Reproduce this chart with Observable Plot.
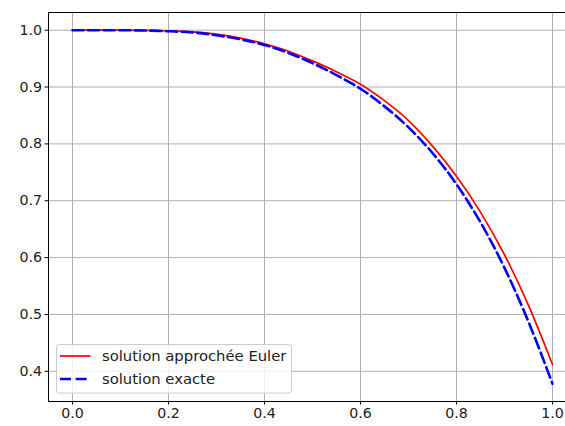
<!DOCTYPE html>
<html>
<head>
<meta charset="utf-8">
<script src="https://cdn.jsdelivr.net/npm/d3@7"></script>
<script src="https://cdn.jsdelivr.net/npm/@observablehq/plot@0.6"></script>
<style>
  html, body { margin: 0; padding: 0; background: #fff; overflow: hidden; }
  #chart { position: relative; width: 565px; height: 426px; overflow: hidden; }
  #chart svg { display: block; max-width: none !important; width: 576px !important; height: 426px !important; }
</style>
</head>
<body>
<div id="chart"></div>
<script>
// x positions (t)
const xs = [0, 0.05, 0.1, 0.15, 0.2, 0.25, 0.3, 0.35, 0.4, 0.45, 0.5, 0.55, 0.6, 0.65, 0.7, 0.75, 0.8, 0.85, 0.9, 0.95, 1.0];
// approximate solution (Euler)
const euler = [1.0, 1.0, 1.0, 0.9998, 0.999, 0.997, 0.993, 0.986, 0.976, 0.963, 0.946, 0.927, 0.905, 0.876, 0.841, 0.796, 0.743, 0.680, 0.605, 0.516, 0.412];
// exact solution
const exacte = [1.0, 1.0, 0.9999, 0.9995, 0.998, 0.996, 0.991, 0.984, 0.974, 0.960, 0.942, 0.921, 0.897, 0.866, 0.829, 0.784, 0.729, 0.662, 0.582, 0.487, 0.378];
// tick labels
const xTicks = [0.0, 0.2, 0.4, 0.6, 0.8, 1.0];
const yTicks = [0.4, 0.5, 0.6, 0.7, 0.8, 0.9, 1.0];
// legend labels
const seriesNames = ["solution approchée Euler", "solution exacte"];
const seriesColors = ["red", "blue"];

const eulerData = xs.map((x, i) => ({x, y: euler[i]}));
const exactData = xs.map((x, i) => ({x, y: exacte[i]}));

const font = "DejaVu Sans, sans-serif";
const fsTick = 14.2;
const fsLegend = 14.8;
const blueDash = "11,4.6";

const plot = Plot.plot({
  width: 576,
  height: 426,
  marginLeft: 48,
  marginRight: 0,
  marginTop: 12,
  marginBottom: 25,
  style: { fontFamily: font, fontSize: fsTick + "px", color: "#000", background: "#fff", overflow: "visible", maxWidth: "none" },
  x: { domain: [-0.05, 1.05] },
  y: { domain: [0.3469, 1.0311] },
  marks: [
    Plot.gridX(xTicks, { stroke: "#b0b0b0", strokeOpacity: 1, strokeWidth: 1 }),
    Plot.gridY(yTicks, { stroke: "#b0b0b0", strokeOpacity: 1, strokeWidth: 1 }),
    Plot.line(eulerData, { x: "x", y: "y", stroke: seriesColors[0], strokeWidth: 1.7, curve: "monotone-x" }),
    Plot.line(exactData, { x: "x", y: "y", stroke: seriesColors[1], strokeWidth: 2.6, strokeDasharray: blueDash, curve: "monotone-x" }),
    Plot.frame({ stroke: "#000", strokeWidth: 1 }),
    Plot.axisX(xTicks, { tickSize: 3.5, tickPadding: 3, tickFormat: d3.format(".1f"), label: null, fill: "#222", fontSize: fsTick }),
    Plot.axisY(yTicks, { tickSize: 3.5, tickPadding: 3, tickFormat: d3.format(".1f"), label: null, fill: "#222", fontSize: fsTick })
  ]
});

document.getElementById("chart").appendChild(plot);

// Legend inside the axes (lower left)
const svg = d3.select(plot);
const lg = svg.append("g").attr("font-family", font).attr("font-size", fsLegend).attr("text-anchor", "start");
lg.append("rect")
  .attr("x", 56.5).attr("y", 344.5).attr("width", 235).attr("height", 48.5)
  .attr("rx", 3).attr("fill", "#fff").attr("fill-opacity", 0.8)
  .attr("stroke", "#cccccc").attr("stroke-width", 1);
const rowsY = [356, 379];
seriesNames.forEach((name, i) => {
  lg.append("line")
    .attr("x1", 60).attr("x2", 90.5).attr("y1", rowsY[i]).attr("y2", rowsY[i])
    .attr("stroke", seriesColors[i])
    .attr("stroke-width", i === 0 ? 1.7 : 2.6)
    .attr("stroke-dasharray", i === 0 ? null : blueDash);
  lg.append("text")
    .attr("x", 102).attr("y", rowsY[i]).attr("dy", "0.35em")
    .attr("text-anchor", "start")
    .attr("fill", "#222")
    .text(name);
});
</script>
</body>
</html>
